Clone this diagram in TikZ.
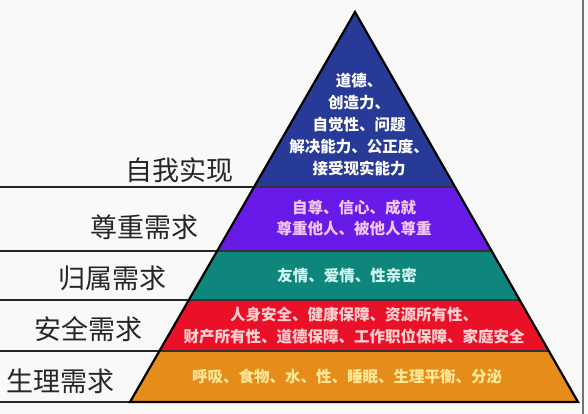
\documentclass[tikz,border=0pt]{standalone}
\usepackage{fontspec}
\newfontfamily\cjk{Noto Sans CJK SC}
\usetikzlibrary{calc}
\definecolor{bgc}{RGB}{249,249,249}
\definecolor{cblue}{RGB}{40,58,152}
\definecolor{cpurple}{RGB}{104,26,232}
\definecolor{cteal}{RGB}{14,134,124}
\definecolor{cred}{RGB}{234,16,40}
\definecolor{corange}{RGB}{230,140,26}
\definecolor{tpurple}{RGB}{242,200,242}
\definecolor{tteal}{RGB}{210,246,240}
\definecolor{tred}{RGB}{255,210,210}
\definecolor{torange}{RGB}{255,232,150}
\tikzset{
  rule/.style={line width=1.8pt, draw=black!85},
  sep/.style={line width=1.4pt, draw=black!80},
  outline/.style={line width=2.2pt, draw=black, line join=miter},
  lvl/.style={font=\cjk\fontsize{27}{30}\selectfont, text=black!85, inner sep=0pt},
  ptext/.style={font=\cjk\bfseries\fontsize{15.5}{22}\selectfont, align=center, inner sep=0pt},
}
\begin{document}
\begin{tikzpicture}[x=1pt,y=-1pt]
\useasboundingbox (0,0) rectangle (588,414);
\fill[bgc] (0,0) rectangle (588,414);
\coordinate (A) at (355,12);
\coordinate (BL) at (130,402);
\coordinate (BR) at (578,402);
\coordinate (E0) at (0,402);
\foreach \n/\y in {1/187,2/251,3/300,4/351}{
  \coordinate (L\n) at ($(A)!{(\y-12)/390}!(BL)$);
  \coordinate (R\n) at ($(A)!{(\y-12)/390}!(BR)$);
  \coordinate (E\n) at (0,\y);
}
% layers
\fill[cblue] (A) -- (R1) -- (L1) -- cycle;
\fill[cpurple] (L1) -- (R1) -- (R2) -- (L2) -- cycle;
\fill[cteal] (L2) -- (R2) -- (R3) -- (L3) -- cycle;
\fill[cred] (L3) -- (R3) -- (R4) -- (L4) -- cycle;
\fill[corange] (L4) -- (R4) -- (BR) -- (BL) -- cycle;
% separators
\foreach \n in {1,2,3,4}{ \draw[sep] (L\n) -- (R\n); }
% left rules
\foreach \n in {1,2,3,4}{ \draw[rule] (E\n) -- (L\n); }
\draw[rule] (E0) -- (BR);
% outline
\draw[outline] (A) -- (BR) -- (BL) -- cycle;
% right border line
\coordinate (V1) at (583,0);
\coordinate (V2) at (583,414);
\draw[line width=1.5pt, draw=black!55] (V1) -- (V2);
% level labels
\node[lvl] (l5) at (179,170) {自我实现};
\node[lvl] (l4) at (144,227) {尊重需求};
\node[lvl] (l3) at (112,278) {归属需求};
\node[lvl] (l2) at (88,329) {安全需求};
\node[lvl] (l1) at (60,381) {生理需求};
% pyramid texts
\node[ptext, text=white] (t5) at (359,125) {道德、\\创造力、\\自觉性、问题\\解决能力、公正度、\\接受现实能力};
\node[ptext, text=tpurple, font=\cjk\bfseries\fontsize{15.5}{21}\selectfont] (t4) at (354,217.5) {自尊、信心、成就\\尊重他人、被他人尊重};
\node[ptext, text=tteal] (t3) at (347,275) {友情、爱情、性亲密};
\node[ptext, text=tred, font=\cjk\bfseries\fontsize{15.5}{22}\selectfont] (t2) at (354,326) {人身安全、健康保障、资源所有性、\\财产所有性、道德保障、工作职位保障、家庭安全};
\node[ptext, text=torange] (t1) at (347,377) {呼吸、食物、水、性、睡眠、生理平衡、分泌};
\end{tikzpicture}
\end{document}
